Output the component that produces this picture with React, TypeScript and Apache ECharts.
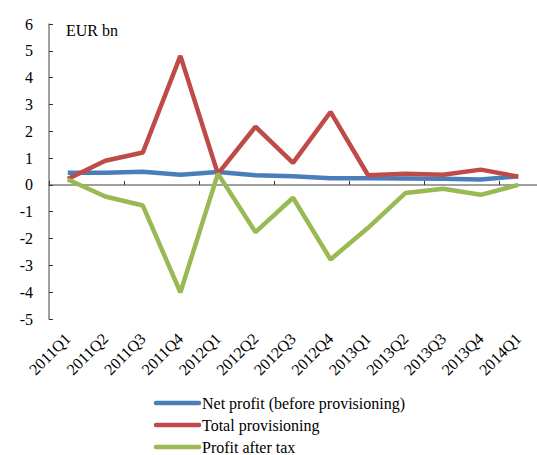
import React, { useEffect, useRef } from "react";
import * as echarts from "echarts";

const categories = ["2011Q1","2011Q2","2011Q3","2011Q4","2012Q1","2012Q2","2012Q3","2012Q4","2013Q1","2013Q2","2013Q3","2013Q4","2014Q1"];
const netProfit = [0.45, 0.45, 0.49, 0.38, 0.48, 0.36, 0.32, 0.25, 0.25, 0.24, 0.23, 0.2, 0.32];
const totalProvisioning = [0.22, 0.9, 1.21, 4.81, 0.41, 2.17, 0.82, 2.72, 0.36, 0.42, 0.38, 0.57, 0.31];
const profitAfterTax = [0.2, -0.43, -0.77, -4.01, 0.42, -1.76, -0.48, -2.78, -1.6, -0.3, -0.14, -0.37, 0.0];
const seriesNames = ["Net profit (before provisioning)", "Total provisioning", "Profit after tax"];
const seriesColors = ["#4A7EBB", "#BE4B48", "#98B954"];

const FONT = "Liberation Serif";

export default function App() {
  const ref = useRef<HTMLDivElement>(null);
  useEffect(() => {
    const chart = echarts.init(ref.current!, undefined, { renderer: "svg" });
    const mk = (name: string, data: number[], color: string) => ({
      name, type: "line", data, symbol: "none", showSymbol: false,
      lineStyle: { color, width: 4.5 }, itemStyle: { color },
      xAxisIndex: 0, yAxisIndex: 0,
    });
    const legendGraphics: any[] = [];
    seriesNames.forEach((n, i) => {
      const y = 403 + i * 22;
      legendGraphics.push({
        type: "line", shape: { x1: 156, y1: y, x2: 199, y2: y },
        style: { stroke: seriesColors[i], lineWidth: 4.5, lineCap: "round" },
      });
      legendGraphics.push({
        type: "text", x: 202, y,
        style: { text: n, fontSize: 16, fontFamily: FONT, fill: "#000", verticalAlign: "middle", textAlign: "left" },
      });
    });
    chart.setOption({
      animation: false,
      backgroundColor: "#fff",
      textStyle: { fontFamily: FONT },
      grid: { left: 49, top: 24, bottom: 136, right: -12, containLabel: false },
      xAxis: [
        {
          type: "category", data: categories, boundaryGap: true,
          axisLine: { onZero: true, lineStyle: { color: "#808080", width: 1.5 } },
          axisTick: { show: true, inside: true, length: 4, lineStyle: { color: "#333" } },
          axisLabel: { show: false },
          splitLine: { show: false },
        },
        {
          type: "category", data: categories, boundaryGap: true, position: "bottom",
          axisLine: { show: false, onZero: false },
          axisTick: { show: false },
          axisLabel: { show: true, rotate: 45, margin: 17, color: "#000", fontSize: 16, fontFamily: FONT, interval: 0 },
          splitLine: { show: false },
        },
      ],
      yAxis: {
        type: "value", min: -5, max: 6, interval: 1,
        axisLine: { show: true, lineStyle: { color: "#808080", width: 1.5 } },
        axisTick: { show: true, inside: true, length: 4, lineStyle: { color: "#333" } },
        axisLabel: { color: "#000", fontSize: 16, fontFamily: FONT, margin: 16 },
        splitLine: { show: false },
      },
      graphic: [
        { type: "text", x: 66, y: 30, style: { text: "EUR bn", fontSize: 16, fontFamily: FONT, fill: "#000", verticalAlign: "middle" } },
        ...legendGraphics,
      ],
      series: seriesNames.map((n, i) => mk(n, [netProfit, totalProvisioning, profitAfterTax][i], seriesColors[i])),
    });
    return () => chart.dispose();
  }, []);
  return <div ref={ref} style={{ position: "absolute", left: 0, top: 0, width: 537, height: 455 }} />;
}
